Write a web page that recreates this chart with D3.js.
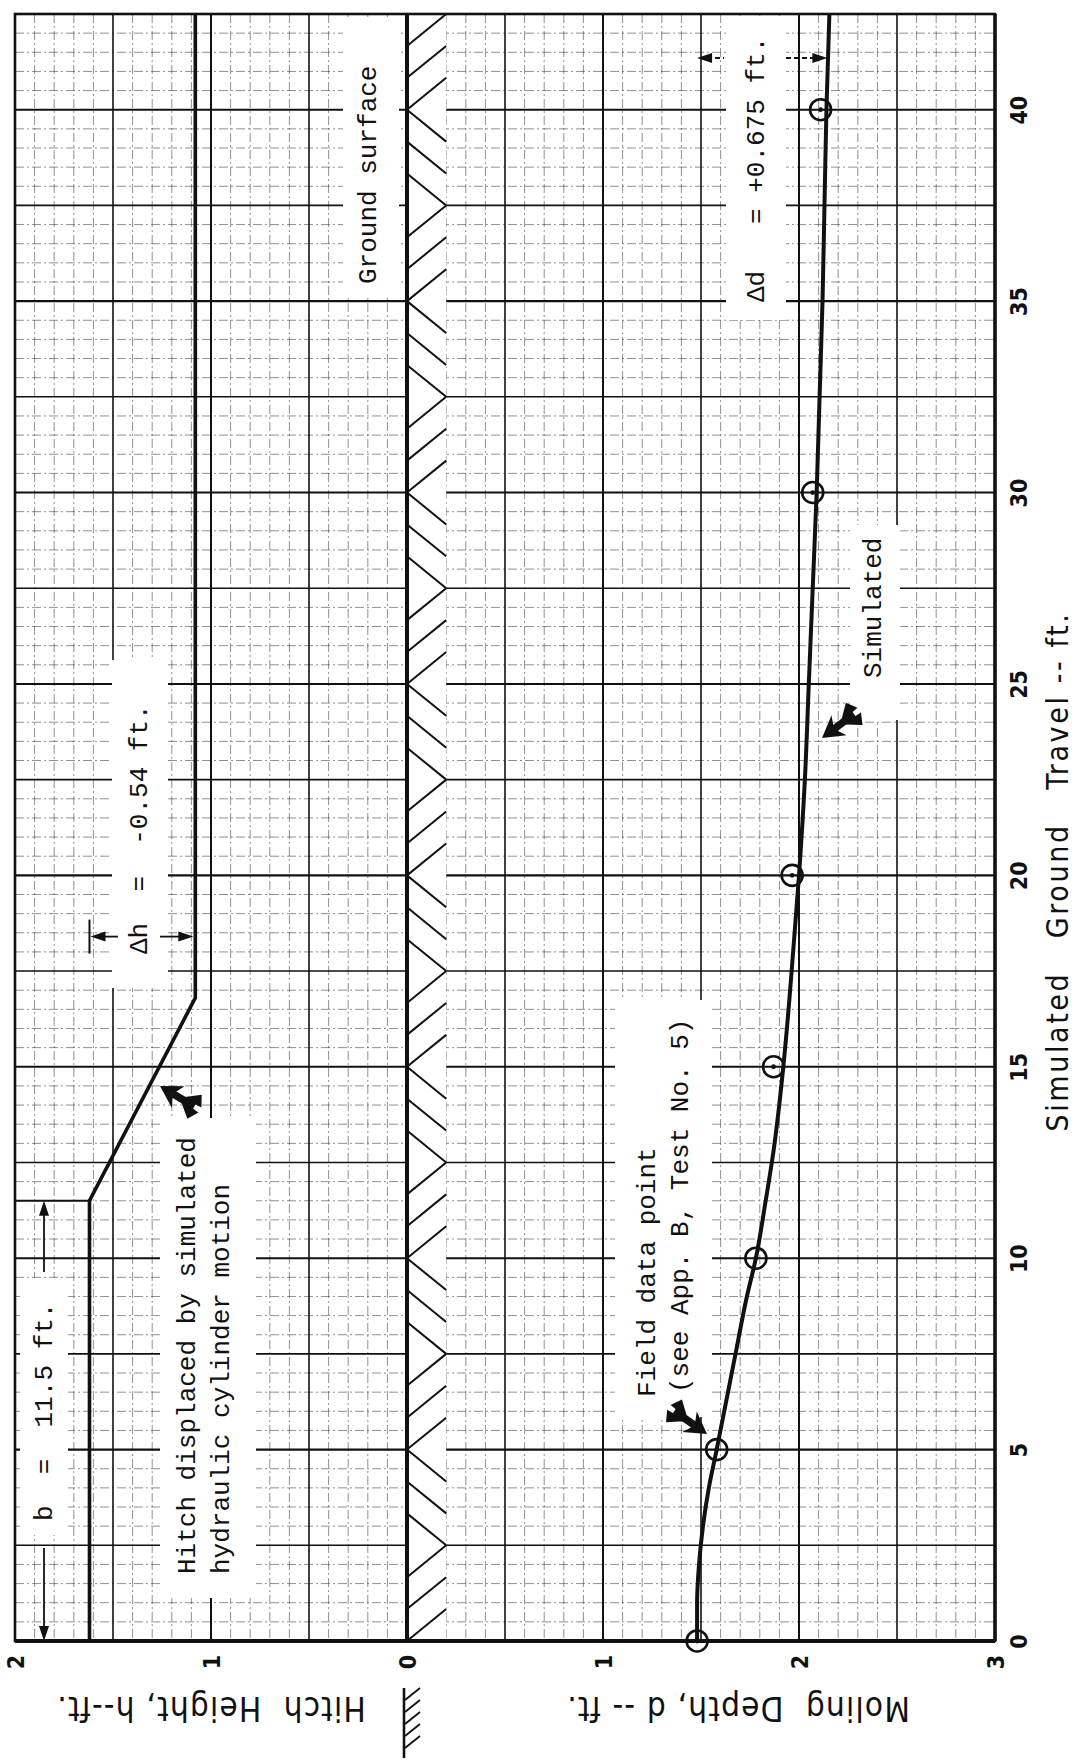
<!DOCTYPE html>
<html>
<head>
<meta charset="utf-8">
<style>
  body { margin: 0; background: #fff; }
  svg { display: block; }
  .tw { font-family: "Liberation Mono", "DejaVu Sans Mono", monospace; font-size: 26px; fill: #111; white-space: pre; }
  .title { font-family: "DejaVu Sans Condensed", "Liberation Sans Narrow", sans-serif; fill: #111; white-space: pre; }
  .tick { font-family: "DejaVu Sans Condensed", sans-serif; font-weight: bold; font-size: 23px; fill: #111; }
</style>
</head>
<body>
<script src="https://cdn.jsdelivr.net/npm/d3@7"></script>
<div id="chart"></div>
<script>

// ground travel (ft), runs up the page
const travelTicks = [0, 5, 10, 15, 20, 25, 30, 35, 40];
// level axis: hitch height above ground on the left (negative), moling depth on the right
const levelTicks = [-2, -1, 0, 1, 2, 3];
const levelTickLabels = ["2", "1", "0", "1", "2", "3"];

// hitch height h (ft) against ground travel
const hitchTravel = [0, 11.5, 16.8, 42.5];
const hitchHeight = [1.62, 1.62, 1.08, 1.08];

// simulated moling depth d (ft)
const simTravel = [0, 1, 2, 3, 4, 5, 6.3, 7.6, 8.9, 10, 11.5, 12.8, 15, 16.7, 18, 20, 22.5, 25, 27.5, 30, 32.5, 35, 37.5, 40, 42.5];
const simDepth  = [1.48, 1.48, 1.49, 1.51, 1.54, 1.58, 1.63, 1.68, 1.73, 1.78, 1.83, 1.87, 1.92, 1.95, 1.97, 2.00, 2.03, 2.05, 2.07, 2.09, 2.105, 2.12, 2.13, 2.14, 2.155];

// field data points (App. B, Test No. 5)
const fieldTravel = [0, 5, 10, 15, 20, 30, 40];
const fieldDepth  = [1.48, 1.58, 1.78, 1.87, 1.965, 2.07, 2.11];

const width = 1080, height = 1761;

const svg = d3.select("#chart")
  .append("svg")
    .attr("width", width)
    .attr("height", height);

svg.append("rect").attr("width", width).attr("height", height).attr("fill", "#fff");

const t = d3.scaleLinear().domain([0, 42.5]).range([1641, 14]);
const v = d3.scaleLinear().domain([-2, 3]).range([15, 995]);

// graph paper
const minorV = d3.range(-20, 31).filter(i => i % 5 !== 0).map(i => i / 10);
const majorV = d3.range(-20, 31, 5).map(i => i / 10);
const minorH = d3.range(0, 86).filter(i => i % 5 !== 0).map(i => i / 2);
const majorH = d3.range(0, 86, 5).map(i => i / 2);

const grid = svg.append("g");
grid.selectAll(".mv").data(minorV).join("line")
    .attr("x1", d => v(d)).attr("x2", d => v(d))
    .attr("y1", t(42.5)).attr("y2", t(0))
    .attr("stroke", "#333").attr("stroke-width", 0.9)
    .attr("stroke-dasharray", "9,3,2,3").attr("opacity", 0.6);
grid.selectAll(".mh").data(minorH).join("line")
    .attr("x1", v(-2)).attr("x2", v(3))
    .attr("y1", d => t(d)).attr("y2", d => t(d))
    .attr("stroke", "#333").attr("stroke-width", 0.9)
    .attr("stroke-dasharray", "9,3,2,3").attr("opacity", 0.6);
grid.selectAll(".Mv").data(majorV).join("line")
    .attr("x1", d => v(d)).attr("x2", d => v(d))
    .attr("y1", t(42.5)).attr("y2", t(0))
    .attr("stroke", "#111").attr("stroke-width", d => Number.isInteger(d) ? 2 : 1.6);
grid.selectAll(".Mh").data(majorH).join("line")
    .attr("x1", v(-2)).attr("x2", v(3))
    .attr("y1", d => t(d)).attr("y2", d => t(d))
    .attr("stroke", "#111").attr("stroke-width", d => d % 5 === 0 ? 2.1 : 1.6);

// soil hatching under the ground surface, 2.5 ft bands alternating direction
const bands = d3.range(0, 17);
const hatch = [];
bands.forEach(k => {
  const y0 = t(2.5 * k), y1 = t(2.5 * (k + 1)), step = (y0 - y1) / 3;
  for (let i = 0; i < 3; i++) {
    if (k % 2 === 0) hatch.push([y0 - i * step, y0 - (i + 1) * step]);
    else hatch.push([y1 + i * step, y1 + (i + 1) * step]);
  }
});
svg.append("rect")
    .attr("x", v(0)).attr("y", t(42.5))
    .attr("width", v(0.2) - v(0)).attr("height", t(0) - t(42.5))
    .attr("fill", "#fff");
svg.append("g").selectAll("line").data(hatch).join("line")
    .attr("x1", v(0)).attr("x2", v(0.2))
    .attr("y1", d => d[0]).attr("y2", d => d[1])
    .attr("stroke", "#111").attr("stroke-width", 2);

// white label boxes over the grid
const boxes = [
  [343, 17, 56, 281],
  [160, 1118, 96, 480],
  [615, 1000, 97, 417],
  [850, 525, 50, 195],
  [112, 660, 56, 328],
  [726, 16, 60, 304],
  [20, 1278, 48, 257]
];
svg.append("g").selectAll("rect").data(boxes).join("rect")
    .attr("x", d => d[0]).attr("y", d => d[1])
    .attr("width", d => d[2]).attr("height", d => d[3])
    .attr("fill", "#fff");

// frame and ground line
svg.append("rect")
    .attr("x", v(-2)).attr("y", t(42.5))
    .attr("width", v(3) - v(-2)).attr("height", t(0) - t(42.5))
    .attr("fill", "none").attr("stroke", "#111").attr("stroke-width", 2.6);
svg.append("line")
    .attr("x1", v(3)).attr("x2", v(3)).attr("y1", t(42.5)).attr("y2", t(0))
    .attr("stroke", "#111").attr("stroke-width", 3.5);
svg.append("line")
    .attr("x1", v(-2)).attr("x2", v(3)).attr("y1", t(0)).attr("y2", t(0))
    .attr("stroke", "#111").attr("stroke-width", 4);
svg.append("line")
    .attr("x1", v(0)).attr("x2", v(0)).attr("y1", t(42.5)).attr("y2", t(0))
    .attr("stroke", "#111").attr("stroke-width", 4);

// hitch path
const hitch = hitchTravel.map((d, i) => [d, hitchHeight[i]]);
svg.append("path")
    .datum(hitch)
    .attr("fill", "none").attr("stroke", "#111").attr("stroke-width", 3.6)
    .attr("d", d3.line().x(d => v(-d[1])).y(d => t(d[0])));

// simulated depth curve
const sim = simTravel.map((d, i) => [d, simDepth[i]]);
svg.append("path")
    .datum(sim)
    .attr("fill", "none").attr("stroke", "#111").attr("stroke-width", 4)
    .attr("d", d3.line().curve(d3.curveMonotoneY).x(d => v(d[1])).y(d => t(d[0])));

// field data points
const field = fieldTravel.map((d, i) => [d, fieldDepth[i]]);
const pts = svg.append("g").selectAll("g").data(field).join("g")
    .attr("transform", d => `translate(${v(d[1])},${t(d[0])})`);
pts.append("circle").attr("r", 10.5).attr("fill", "none").attr("stroke", "#111").attr("stroke-width", 2.6);
pts.append("circle").attr("r", 2.4).attr("fill", "#111");

// rotated text helper
function vtext(x, y, str, cls, anchor) {
  return svg.append("text")
      .attr("class", cls)
      .attr("x", x).attr("y", y)
      .attr("transform", `rotate(-90,${x},${y})`)
      .attr("text-anchor", anchor || "start")
      .attr("dominant-baseline", "central")
      .attr("xml:space", "preserve")
      .text(str);
}

function head(x, y, dir) {
  const L = 15, W = 5;
  const pts = {
    up:    [[x, y], [x - W, y + L], [x + W, y + L]],
    down:  [[x, y], [x - W, y - L], [x + W, y - L]],
    left:  [[x, y], [x + L, y - W], [x + L, y + W]],
    right: [[x, y], [x - L, y - W], [x - L, y + W]]
  }[dir];
  svg.append("path").attr("d", "M" + pts.join("L") + "Z").attr("fill", "#111");
}

function seg(x1, y1, x2, y2, w, dash) {
  svg.append("line").attr("x1", x1).attr("y1", y1).attr("x2", x2).attr("y2", y2)
      .attr("stroke", "#111").attr("stroke-width", w || 1.8)
      .attr("stroke-dasharray", dash || null);
}

// feathered pointer arrow
function dart(x, y, dx, dy) {
  const a = Math.atan2(dy, dx) * 180 / Math.PI;
  const g = svg.append("g").attr("transform", `translate(${x},${y}) rotate(${a}) scale(1.25)`);
  g.append("path").attr("d", "M0,0 L-17,-10 L-12,0 L-17,10 Z").attr("fill", "#111");
  g.append("path").attr("d", "M-12,0 L-32,0").attr("stroke", "#111").attr("stroke-width", 6);
  g.append("path").attr("d", "M-22,-2 L-32,-10 L-36,-3 Z M-22,2 L-32,10 L-36,3 Z")
      .attr("fill", "#111").attr("stroke", "#111").attr("stroke-width", 1.5);
}

// annotations
vtext(369, 284, "Ground surface", "tw");
vtext(188, 1574, "Hitch displaced by simulated", "tw");
vtext(222, 1574, "hydraulic cylinder motion", "tw");
vtext(648, 1397, "Field data point", "tw");
vtext(681, 1393, "(see App. B, Test No. 5)", "tw");
vtext(874, 678, "Simulated", "tw");
vtext(140, 954, "\u0394h  =  -0.54 ft.", "tw");
vtext(757, 302, "\u0394d   = +0.675 ft.", "tw");
vtext(45, 1521, "b  =  11.5 ft.", "tw");

// b dimension
const bx = 44;
seg(bx, 1548, bx, t(0) - 10, 1.8);
head(bx, t(0), "down");
seg(bx, 1272, bx, t(11.5) + 10, 1.8);
head(bx, t(11.5), "up");
seg(v(-2), t(11.5), v(-1.62), t(11.5), 1.8);

// delta h dimension
const hy = t(18.4);
seg(v(-1.62), hy - 17, v(-1.62), hy + 17, 2);
seg(v(-1.62) + 10, hy, 118, hy, 1.8);
head(v(-1.62) + 1, hy, "left");
seg(160, hy, v(-1.08) - 10, hy, 1.8);
head(v(-1.08) - 2, hy, "right");

// delta d dimension
const dy = t(41.35);
seg(v(1.48) + 10, dy, 724, dy, 1.8, "5,3");
head(v(1.48), dy, "left");
seg(786, dy, v(2.155) - 12, dy, 1.8, "5,3");
head(v(2.155) - 2, dy, "right");

// pointers
dart(160, 1086, -1, -0.6);
dart(707, 1434, 1, 0.7);
dart(822, 738, -1, 0.75);

// travel tick labels
const travelAxis = svg.append("g")
    .attr("transform", `translate(1019,0)`)
    .call(d3.axisRight(t).tickValues(travelTicks).tickSize(0).tickPadding(0));
travelAxis.select(".domain").remove();
travelAxis.selectAll("text")
    .attr("class", "tick")
    .attr("x", 0).attr("dy", null)
    .attr("transform", "rotate(-90)")
    .attr("text-anchor", "middle")
    .attr("dominant-baseline", "central")
    .attr("font-family", null).attr("font-size", null).attr("fill", null);

// level tick labels
const levelAxis = svg.append("g")
    .attr("transform", `translate(0,1662)`)
    .call(d3.axisBottom(v).tickValues(levelTicks)
      .tickFormat((d, i) => levelTickLabels[i]).tickSize(0).tickPadding(0));
levelAxis.select(".domain").remove();
levelAxis.selectAll("text")
    .attr("class", "tick")
    .attr("y", 0).attr("dy", null)
    .attr("transform", "rotate(-90)")
    .attr("text-anchor", "middle")
    .attr("dominant-baseline", "central")
    .attr("font-family", null).attr("font-size", null).attr("fill", null);

// axis titles
vtext(1058, t(20.1), "Simulated   Ground   Travel -- ft.", "title", "middle")
    .attr("font-size", 30).attr("letter-spacing", 2.6);

function flipText(x, y, str) {
  svg.append("text")
      .attr("class", "title")
      .attr("x", x).attr("y", y)
      .attr("transform", `rotate(180,${x},${y})`)
      .attr("text-anchor", "middle")
      .attr("dominant-baseline", "central")
      .attr("xml:space", "preserve")
      .attr("font-size", 33).attr("letter-spacing", 1.2)
      .text(str);
}
flipText(v(-1), 1708, "Hitch  Height, h--ft.");
flipText(738, 1708, "Moling  Depth, d -- ft.");

// ground symbol under the zero label
const gx = v(0) - 3;
seg(gx, 1688, gx, 1758, 2.6);
d3.range(0, 5).forEach(i => seg(gx + 1, 1700 + i * 12, gx + 16, 1688 + i * 12, 1.8));

</script>
</body>
</html>
